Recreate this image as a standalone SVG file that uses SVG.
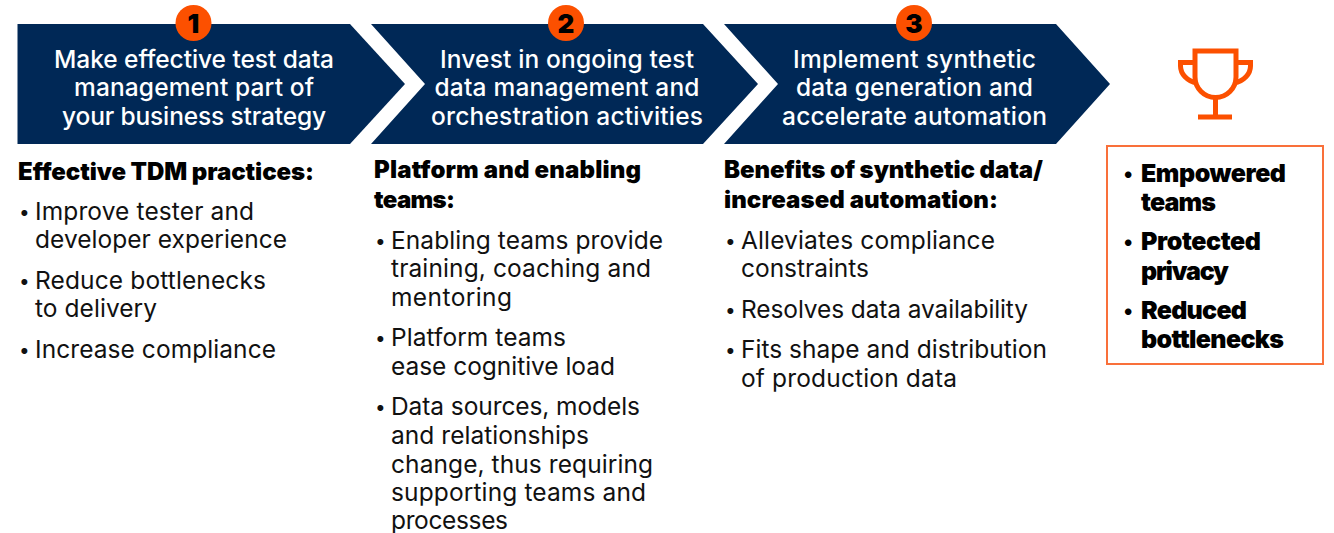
<svg xmlns="http://www.w3.org/2000/svg" width="1334" height="533" viewBox="0 0 1334 533">
<style>
text{font-family:"Inter","Liberation Sans",sans-serif;fill:#000}
.c{fill:#002856}
.n{fill:#fc5000}
.num{font-size:26px;font-weight:900;text-anchor:middle}
.h{font-size:24.500px;fill:#fff;font-weight:500;text-anchor:middle}
.t{font-size:24px;font-weight:900}
.b{font-size:24.500px;fill:#111}
.d{font-size:19px;fill:#111}
.r{font-size:25px;font-weight:900}
.rd{font-size:21px;font-weight:900}
</style>
<rect width="1334" height="533" fill="#fff"/>
<g id="step1">
<path class="c" d="M17.500 24H350L405 84L350 144H17.500Z"/>
<circle class="n" cx="193.500" cy="23" r="18"/>
<text class="num" x="193.500" y="33">1</text>
<text class="h" x="194" y="68" textLength="280">Make effective test data</text>
<text class="h" x="194" y="96" textLength="240">management part of</text>
<text class="h" x="194" y="125" textLength="264">your business strategy</text>
</g>
<g id="step2">
<path class="c" d="M371 24H703L758 84L703 144H371L425 84Z"/>
<circle class="n" cx="566" cy="23" r="18"/>
<text class="num" x="566" y="33">2</text>
<text class="h" x="567" y="68" textLength="254">Invest in ongoing test</text>
<text class="h" x="567" y="96" textLength="265">data management and</text>
<text class="h" x="567" y="125" textLength="272">orchestration activities</text>
</g>
<g id="step3">
<path class="c" d="M724 24H1056L1110 84L1056 144H724L778 84Z"/>
<circle class="n" cx="914" cy="23" r="18"/>
<text class="num" x="914" y="33">3</text>
<text class="h" x="914.500" y="68" textLength="243">Implement synthetic</text>
<text class="h" x="914.500" y="96" textLength="237">data generation and</text>
<text class="h" x="914.500" y="125" textLength="265">accelerate automation</text>
</g>
<g id="column1">
<text class="t" x="18" y="180" textLength="296">Effective TDM practices:</text>
<text class="d" x="19" y="219">•</text>
<text class="b" x="35" y="220" textLength="219">Improve tester and</text>
<text class="b" x="35" y="248" textLength="252">developer experience</text>
<text class="d" x="19" y="288">•</text>
<text class="b" x="35" y="289" textLength="231">Reduce bottlenecks</text>
<text class="b" x="35" y="317" textLength="122">to delivery</text>
<text class="d" x="19" y="357">•</text>
<text class="b" x="35" y="358" textLength="241">Increase compliance</text>
</g>
<g id="column2">
<text class="t" x="374" y="178" textLength="267">Platform and enabling</text>
<text class="t" x="374" y="208" textLength="81">teams:</text>
<text class="d" x="375" y="248">•</text>
<text class="b" x="391" y="249" textLength="272">Enabling teams provide</text>
<text class="b" x="391" y="277" textLength="260">training, coaching and</text>
<text class="b" x="391" y="306" textLength="121">mentoring</text>
<text class="d" x="375" y="345">•</text>
<text class="b" x="391" y="346" textLength="175">Platform teams</text>
<text class="b" x="391" y="375" textLength="224">ease cognitive load</text>
<text class="d" x="375" y="414">•</text>
<text class="b" x="391" y="415" textLength="249">Data sources, models</text>
<text class="b" x="391" y="443.500" textLength="198">and relationships</text>
<text class="b" x="391" y="472.500" textLength="262">change, thus requiring</text>
<text class="b" x="391" y="500.500" textLength="255">supporting teams and</text>
<text class="b" x="391" y="528.500" textLength="117">processes</text>
</g>
<g id="column3">
<text class="t" x="724" y="178" textLength="319">Benefits of synthetic data/</text>
<text class="t" x="724" y="208" textLength="274">increased automation:</text>
<text class="d" x="725" y="248">•</text>
<text class="b" x="741" y="249" textLength="254">Alleviates compliance</text>
<text class="b" x="741" y="277" textLength="128">constraints</text>
<text class="d" x="725" y="317">•</text>
<text class="b" x="741" y="318" textLength="287">Resolves data availability</text>
<text class="d" x="725" y="357">•</text>
<text class="b" x="741" y="358" textLength="306">Fits shape and distribution</text>
<text class="b" x="741" y="386.500" textLength="216">of production data</text>
</g>
<g id="trophy" fill="none" stroke="#fc5000" stroke-width="5">
<path d="M1195 51H1236V77A20.500 20.500 0 0 1 1195 77Z"/>
<path d="M1195 62.500H1180.500V66C1180.500 74 1187 81 1197 83"/>
<path d="M1236 62.500H1250.500V66C1250.500 74 1244 81 1234 83"/>
<path d="M1215.500 97V117M1198 117H1232"/>
</g>
<g id="outcomes">
<rect x="1107" y="146" width="216" height="218" fill="none" stroke="#f9703a" stroke-width="2"/>
<text class="rd" x="1124" y="181">•</text>
<text class="r" x="1141" y="182" textLength="145">Empowered</text>
<text class="r" x="1141" y="211" textLength="75">teams</text>
<text class="rd" x="1124" y="249">•</text>
<text class="r" x="1141" y="250" textLength="120">Protected</text>
<text class="r" x="1141" y="280" textLength="88">privacy</text>
<text class="rd" x="1124" y="318">•</text>
<text class="r" x="1141" y="319" textLength="106">Reduced</text>
<text class="r" x="1141" y="348" textLength="143">bottlenecks</text>
</g>
</svg>
